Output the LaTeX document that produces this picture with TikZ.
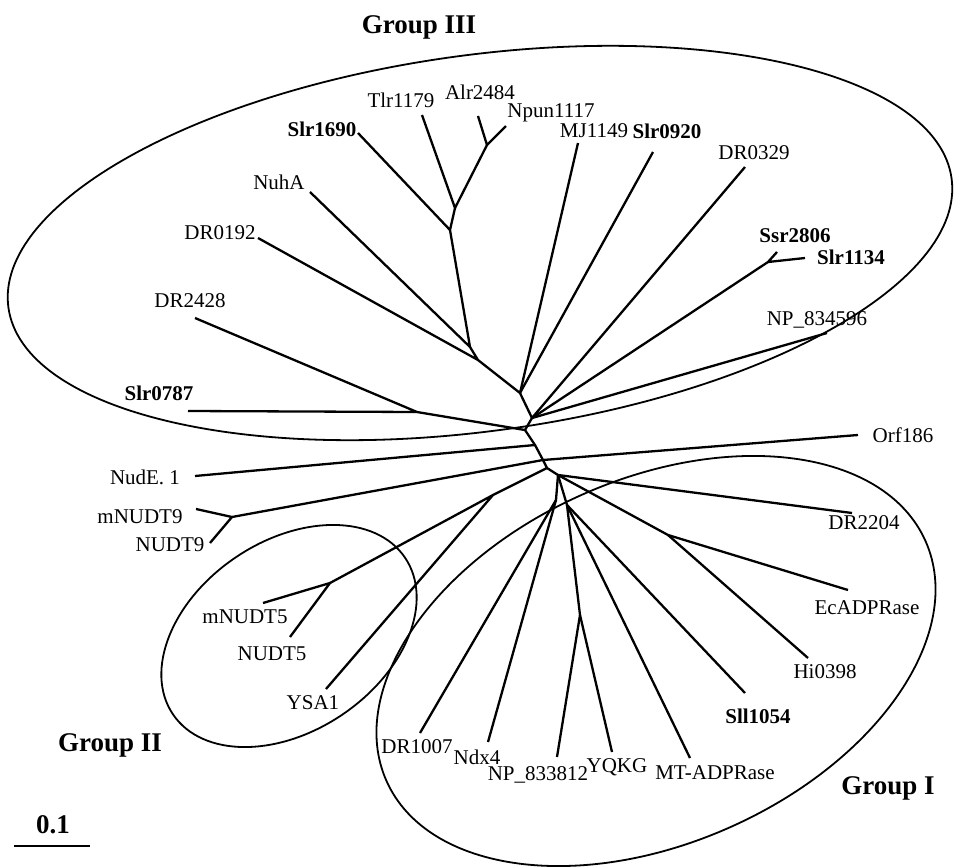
\documentclass[tikz,border=0pt]{standalone}
\usepackage{fontspec}
\setmainfont{Liberation Serif}
\begin{document}
\begin{tikzpicture}[
    x=0.5pt, y=-0.5pt,
    leaf/.style={font=\fontsize{10.5}{12}\selectfont, inner sep=0pt},
    bleaf/.style={leaf, font=\fontsize{10.5}{12}\selectfont\bfseries},
    grp/.style={font=\fontsize{13.5}{15}\selectfont\bfseries, inner sep=0pt},
    branch/.style={line width=1.15pt, line join=round},
    hull/.style={line width=0.9pt}
]
\useasboundingbox (0,0) rectangle (955,868);

% Leaves :
\coordinate (tSlr1690) at (358,133);  \node[bleaf] (Slr1690) at (322,129) {Slr1690};
\coordinate (tTlr1179) at (422,115);  \node[leaf] (Tlr1179) at (401,100) {Tlr1179};
\coordinate (tAlr2484) at (478,116);  \node[leaf] (Alr2484) at (480,92) {Alr2484};
\coordinate (tNpun) at (506,126);     \node[leaf] (Npun) at (551,113) {Npun1117};
\coordinate (tMJ) at (578,143);       \node[leaf] (MJ) at (594,131) {MJ1149};
\coordinate (tSlr0920) at (653,152);  \node[bleaf] (Slr0920) at (667,131) {Slr0920};
\coordinate (tDR0329) at (745,167);   \node[leaf] (DR0329) at (754,153) {DR0329};
\coordinate (tSsr2806) at (777,252);  \node[bleaf] (Ssr2806) at (795,236) {Ssr2806};
\coordinate (tSlr1134) at (805,258);  \node[bleaf] (Slr1134) at (851,257) {Slr1134};
\coordinate (tNPa) at (827,333);      \node[leaf] (NPa) at (817,320) {NP\_834596};
\coordinate (tNuhA) at (310,192);     \node[leaf] (NuhA) at (279,182) {NuhA};
\coordinate (tDR0192) at (258,238);   \node[leaf] (DR0192) at (220,233) {DR0192};
\coordinate (tDR2428) at (195,318);   \node[leaf] (DR2428) at (190,301) {DR2428};
\coordinate (tSlr0787) at (188,411);  \node[bleaf] (Slr0787) at (159,393) {Slr0787};

\coordinate (tNudE) at (195,476);     \node[leaf] (NudE) at (145,477) {NudE. 1};
\coordinate (tmN9) at (196,509);      \node[leaf] (mN9) at (140,517) {mNUDT9};
\coordinate (tN9) at (210,543);       \node[leaf] (N9) at (170,545) {NUDT9};
\coordinate (tmN5) at (263,603);      \node[leaf] (mN5) at (245,617) {mNUDT5};
\coordinate (tN5) at (290,637);       \node[leaf] (N5) at (272,654) {NUDT5};
\coordinate (tYSA) at (326,689);      \node[leaf] (YSA) at (313,703) {YSA1};

\coordinate (tOrf) at (858,435);      \node[leaf] (Orf) at (903,435) {Orf186};
\coordinate (tDR2204) at (852,513);   \node[leaf] (DR2204) at (864,523) {DR2204};
\coordinate (tEc) at (848,590);       \node[leaf] (Ec) at (867,608) {EcADPRase};
\coordinate (tHi) at (808,658);       \node[leaf] (Hi) at (825,672) {Hi0398};
\coordinate (tSll) at (745,693);      \node[bleaf] (Sll) at (758,716) {Sll1054};
\coordinate (tMT) at (690,758);       \node[leaf] (MT) at (715,773) {MT-ADPRase};
\coordinate (tYQKG) at (612,752);     \node[leaf] (YQKG) at (617,767) {YQKG};
\coordinate (tNPb) at (557,757);      \node[leaf] (NPb) at (538,775) {NP\_833812};
\coordinate (tNdx) at (488,742);      \node[leaf] (Ndx) at (477,757) {Ndx4};
\coordinate (tDR1007) at (420,733);   \node[leaf] (DR1007) at (417,747) {DR1007};

% Inner nodes :
\coordinate (j3) at (487,145);
\coordinate (j2) at (455,208);
\coordinate (j1) at (450,230);
\coordinate (j4) at (470,347);
\coordinate (j5) at (478,360);
\coordinate (c1) at (520,393);
\coordinate (s1) at (768,262);
\coordinate (c2) at (532,418);
\coordinate (d1) at (417,412);
\coordinate (c3) at (525,430);
\coordinate (c4) at (535,445);
\coordinate (c5) at (543,460);
\coordinate (m9) at (232,517);
\coordinate (c6) at (547,468);
\coordinate (g5) at (493,495);
\coordinate (n5) at (330,583);
\coordinate (g1) at (558,475);
\coordinate (e1) at (668,535);
\coordinate (q1) at (556,500);
\coordinate (g2) at (567,505);
\coordinate (y1) at (580,615);

% Edges :
\draw[branch] (tAlr2484) -- (j3) -- (tNpun);
\draw[branch] (tTlr1179) -- (j2) -- (j3);
\draw[branch] (tSlr1690) -- (j1) -- (j2);
\draw[branch] (tNuhA) -- (j4) -- (j1);
\draw[branch] (tDR0192) -- (j5) -- (j4);
\draw[branch] (j5) -- (c1) -- (tMJ);
\draw[branch] (c1) -- (tSlr0920);
\draw[branch] (tSsr2806) -- (s1) -- (tSlr1134);
\draw[branch] (c1) -- (c2) -- (tDR0329);
\draw[branch] (c2) -- (s1);
\draw[branch] (c2) -- (tNPa);
\draw[branch] (tDR2428) -- (d1) -- (tSlr0787);
\draw[branch] (c2) -- (c3) -- (d1);
\draw[branch] (c3) -- (c4) -- (tNudE);
\draw[branch] (c4) -- (c5) -- (tOrf);
\draw[branch] (tmN9) -- (m9) -- (tN9);
\draw[branch] (c5) -- (m9);
\draw[branch] (tmN5) -- (n5) -- (tN5);
\draw[branch] (n5) -- (g5) -- (tYSA);
\draw[branch] (c5) -- (c6) -- (g5);
\draw[branch] (c6) -- (g1) -- (tDR2204);
\draw[branch] (g1) -- (e1) -- (tEc);
\draw[branch] (e1) -- (tHi);
\draw[branch] (g1) -- (q1) -- (tDR1007);
\draw[branch] (q1) -- (tNdx);
\draw[branch] (g1) -- (g2) -- (tSll);
\draw[branch] (g2) -- (tMT);
\draw[branch] (g2) -- (y1) -- (tNPb);
\draw[branch] (y1) -- (tYQKG);

% Groups :
\draw[hull, rotate around={7.8:(480,243)}] (480,243) ellipse (476 and 188);
\draw[hull, rotate around={24:(656,661)}] (656,661) ellipse (295 and 182);
\draw[hull, rotate around={34:(289,636)}] (289,636) ellipse (140 and 95);
\node[grp] (gIII) at (419,27) {Group III};
\node[grp] (gII) at (110,745) {Group II};
\node[grp] (gI) at (888,788) {Group I};

% Scale :
\coordinate (sbl) at (14,846);
\coordinate (sbr) at (90,846);
\draw[branch] (sbl) -- (sbr);
\node[grp] (sbt) at (53,825) {0.1};

\end{tikzpicture}
\end{document}
